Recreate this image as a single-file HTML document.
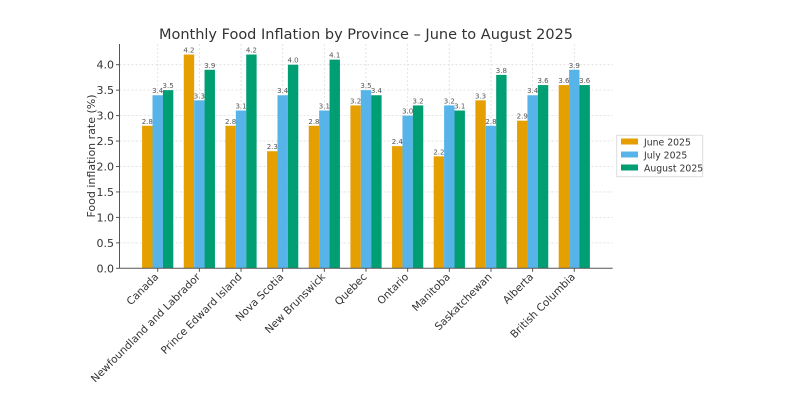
<!DOCTYPE html>
<html><head><meta charset="utf-8"><style>body{margin:0;background:#fff}svg{display:block;font-family:"DejaVu Sans","Liberation Sans",sans-serif}</style></head>
<body>
<svg id="s" width="800" height="400" xmlns="http://www.w3.org/2000/svg">
<rect width="800" height="400" fill="#fff"/>
<text x="366" y="39" font-size="14.5" fill="#333" text-anchor="middle">Monthly Food Inflation by Province – June to August 2025</text>
<g id="grid"></g>
<g id="bars"></g>
<line x1="119.5" y1="44" x2="119.5" y2="268.3" stroke="#555" stroke-width="1"/>
<line x1="119.5" y1="268.3" x2="612.7" y2="268.3" stroke="#555" stroke-width="1"/>
<text transform="translate(95,156) rotate(-90)" font-size="11" fill="#333" text-anchor="middle">Food inflation rate (%)</text>
<g font-size="9.3" fill="#333">
<rect x="616.7" y="135.3" width="86" height="41.4" fill="#fff" stroke="#ddd"/>
<rect x="621" y="138.5" width="17" height="6" fill="#E69F00"/><text x="644" y="145.5">June 2025</text>
<rect x="621" y="151.5" width="17" height="6" fill="#56B4E9"/><text x="644" y="158.5">July 2025</text>
<rect x="621" y="164.5" width="17" height="6" fill="#009E73"/><text x="644" y="171.5">August 2025</text>
</g>
</svg>
<script>
const names=["Canada","Newfoundland and Labrador","Prince Edward Island","Nova Scotia","New Brunswick","Quebec","Ontario","Manitoba","Saskatchewan","Alberta","British Columbia"];
const d=[[2.8,3.4,3.5],[4.2,3.3,3.9],[2.8,3.1,4.2],[2.3,3.4,4.0],[2.8,3.1,4.1],[3.2,3.5,3.4],[2.4,3.0,3.2],[2.2,3.2,3.1],[3.3,2.8,3.8],[2.9,3.4,3.6],[3.6,3.9,3.6]];
const col=["#E69F00","#56B4E9","#009E73"];
const y0=268.3,u=50.9,sp=41.66,c0=157.7,bw=10.4;
let g="",b="";
for(let i=0;i<=8;i++){const y=y0-i*0.5*u;
 if(i>0)g+=`<line x1="119.5" x2="612.7" y1="${y}" y2="${y}" stroke="#ddd" stroke-dasharray="2,2" stroke-width="0.8"/>`;
 g+=`<line x1="116" x2="119.5" y1="${y}" y2="${y}" stroke="#555"/><text x="114" y="${y+4}" font-size="11" fill="#333" text-anchor="end">${(i*0.5).toFixed(1)}</text>`;}
names.forEach((n,i)=>{const c=c0+i*sp;
 g+=`<line x1="${c}" x2="${c}" y1="44" y2="268.3" stroke="#ddd" stroke-dasharray="2,2" stroke-width="0.8"/><line x1="${c}" x2="${c}" y1="268.3" y2="271.8" stroke="#555"/>`;
 d[i].forEach((v,k)=>{const x=c-1.5*bw+k*bw,h=v*u;
  b+=`<rect x="${x}" y="${y0-h}" width="${bw}" height="${h}" fill="${col[k]}"/><text x="${x+bw/2}" y="${y0-h-2}" font-size="7" fill="#555" text-anchor="middle">${v.toFixed(1)}</text>`;});
 b+=`<text transform="translate(${c-3},273) rotate(-45)" font-size="10.5" fill="#333" text-anchor="end" dy="0.6em">${n}</text>`;
});
document.getElementById("grid").innerHTML=g;document.getElementById("bars").innerHTML=b;
</script>
</body></html>
